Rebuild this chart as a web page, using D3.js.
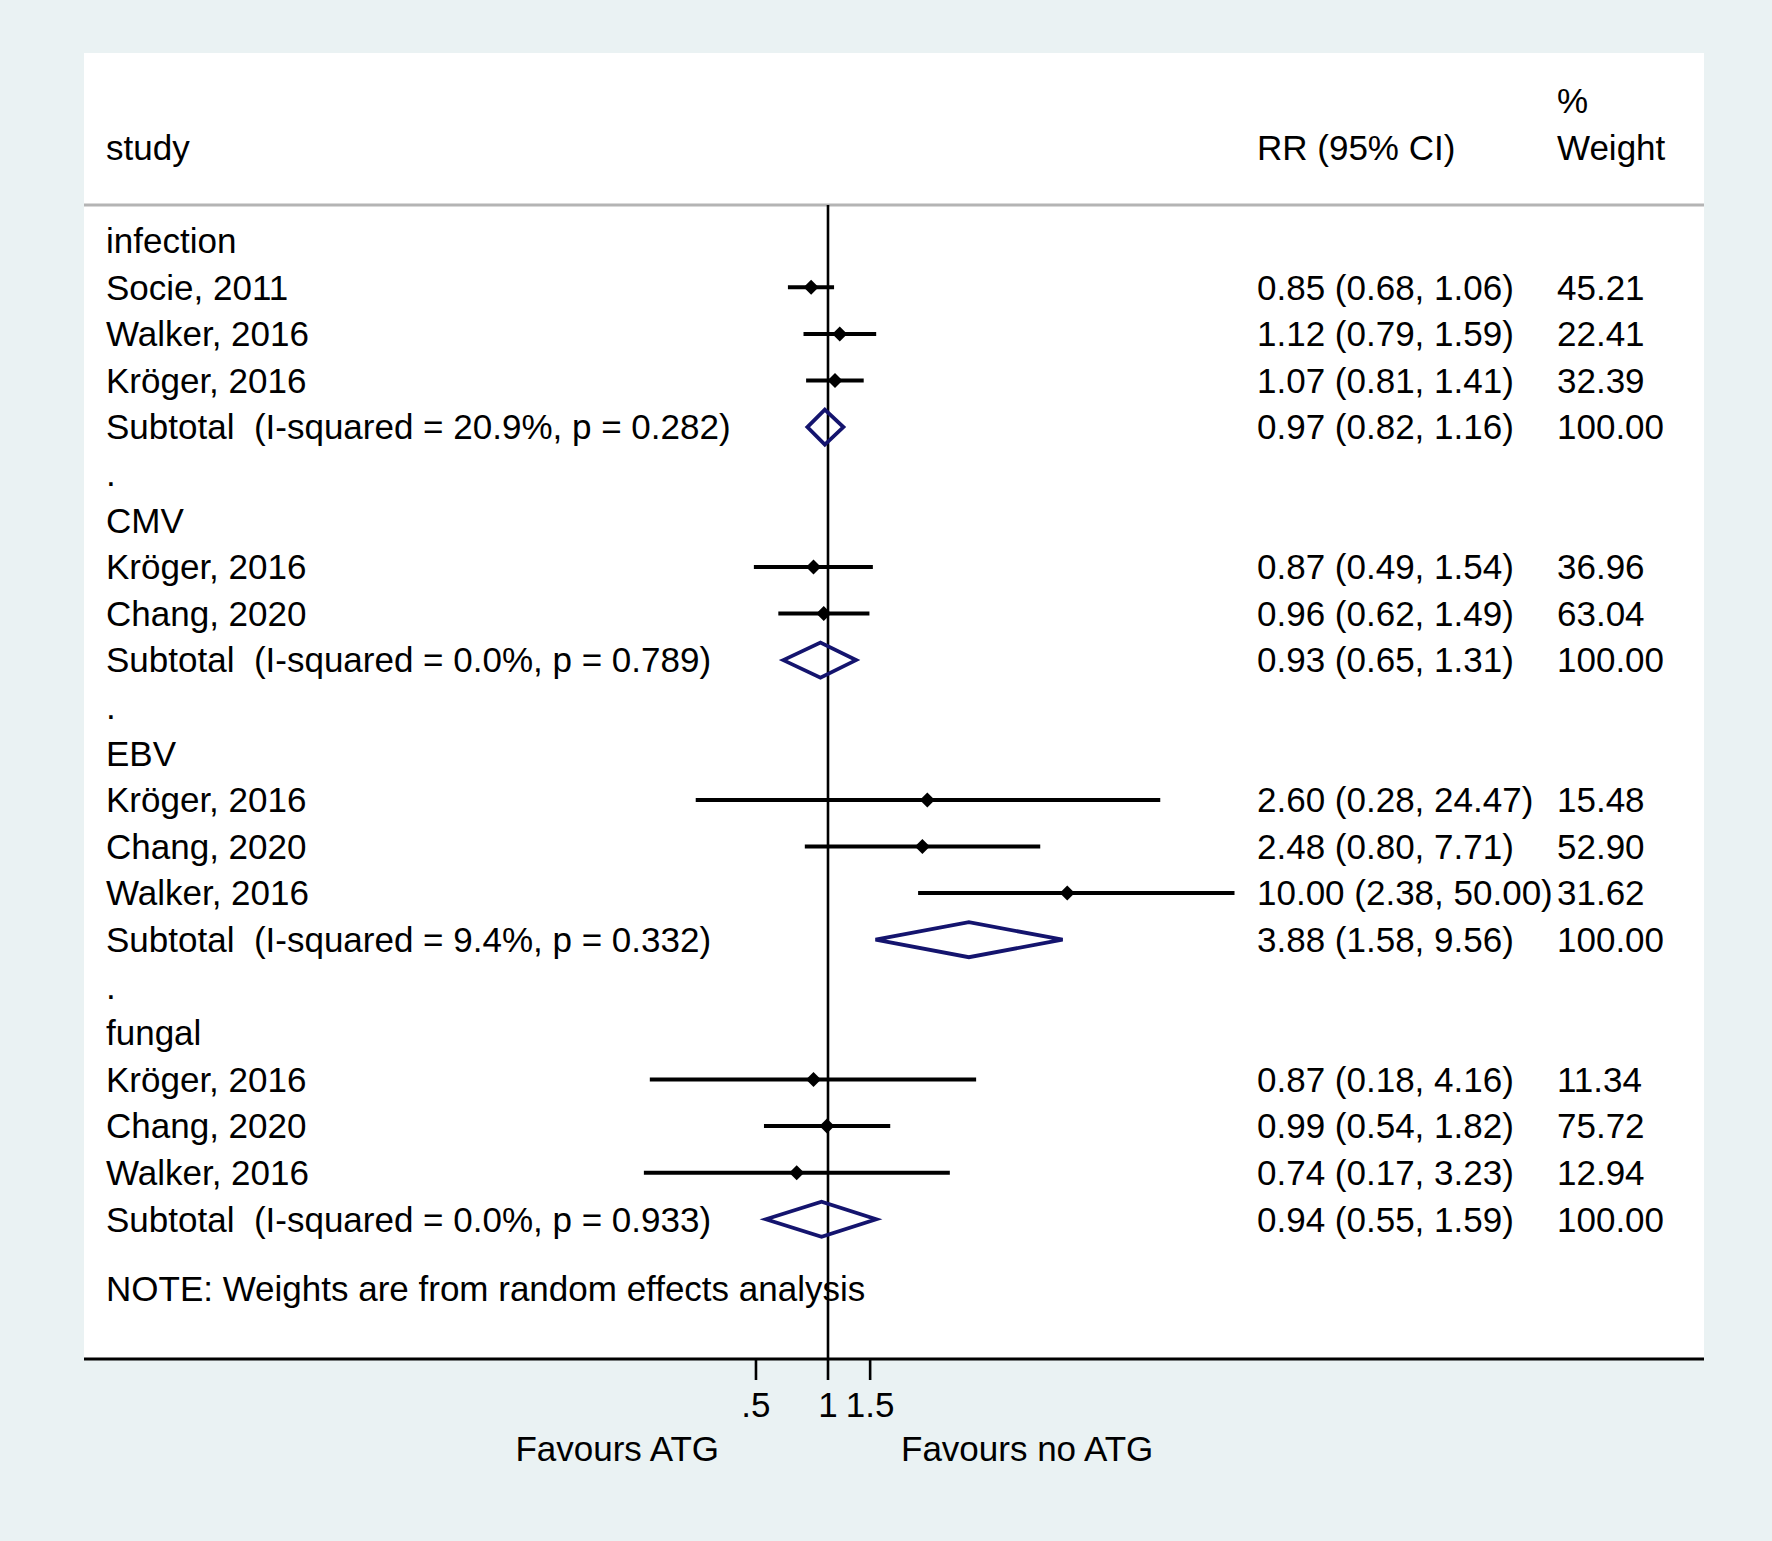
<!DOCTYPE html>
<html>
<head>
<meta charset="utf-8">
<script src="https://cdn.jsdelivr.net/npm/d3@7"></script>
<style>
  html, body { margin: 0; padding: 0; background: #eaf2f3; }
  svg { display: block; }
  text { font-family: "Liberation Sans", Arial, Helvetica, sans-serif; fill: #000; white-space: pre; }
</style>
</head>
<body>
<svg id="chart" width="1772" height="1541"></svg>
<script>
// ---- Data ----
const rowTypes  = ["group","study","study","study","subtotal","blank",
                   "group","study","study","subtotal","blank",
                   "group","study","study","study","subtotal","blank",
                   "group","study","study","study","subtotal"];
const rowLabels = ["infection","Socie, 2011","Walker, 2016","Kröger, 2016","Subtotal  (I-squared = 20.9%, p = 0.282)",".",
                   "CMV","Kröger, 2016","Chang, 2020","Subtotal  (I-squared = 0.0%, p = 0.789)",".",
                   "EBV","Kröger, 2016","Chang, 2020","Walker, 2016","Subtotal  (I-squared = 9.4%, p = 0.332)",".",
                   "fungal","Kröger, 2016","Chang, 2020","Walker, 2016","Subtotal  (I-squared = 0.0%, p = 0.933)"];
const rrValues  = [null,0.85,1.12,1.07,0.97,null, null,0.87,0.96,0.93,null, null,2.60,2.48,10.00,3.88,null, null,0.87,0.99,0.74,0.94];
const ciLower   = [null,0.68,0.79,0.81,0.82,null, null,0.49,0.62,0.65,null, null,0.28,0.80,2.38,1.58,null, null,0.18,0.54,0.17,0.55];
const ciUpper   = [null,1.06,1.59,1.41,1.16,null, null,1.54,1.49,1.31,null, null,24.47,7.71,50.00,9.56,null, null,4.16,1.82,3.23,1.59];
const weights   = [null,45.21,22.41,32.39,100.00,null, null,36.96,63.04,100.00,null, null,15.48,52.90,31.62,100.00,null, null,11.34,75.72,12.94,100.00];
const xTicks      = [0.5, 1, 1.5];
const xTickLabels = [".5", "1", "1.5"];
const headerStudy  = "study";
const headerRR     = "RR (95% CI)";
const headerWeight = ["%", "Weight"];
const favourLeft  = "Favours ATG";
const favourRight = "Favours no ATG";
const noteText    = "NOTE: Weights are from random effects analysis";

// ---- Layout ----
const W = 1772, H = 1541;
const panel = { left: 84, right: 1704, top: 53, bottom: 1359 };
const headerLineY = 205;
const fontSize = 35;
const colStudyX = 106, colRRX = 1257, colWX = 1557;

const svg = d3.select("#chart");

svg.append("rect").attr("x",0).attr("y",0).attr("width",W).attr("height",H).attr("fill","#eaf2f3");
svg.append("rect").attr("x",panel.left).attr("y",panel.top)
  .attr("width",panel.right-panel.left).attr("height",panel.bottom-panel.top).attr("fill","#ffffff");

// scales
const x = d3.scaleLog().domain([0.02, 50]).range([421.5, 1234.5]);
const rowIdx = d3.range(rowLabels.length);
const y = d3.scaleLinear().domain([0, rowLabels.length - 1]).range([240.7, 1219.3]);
const fmt = d3.format(".2f");

// header
const hdr = svg.append("g").attr("font-size", fontSize);
hdr.append("text").attr("x", colStudyX).attr("y", 148).attr("dy","0.35em").text(headerStudy);
hdr.append("text").attr("x", colRRX).attr("y", 148).attr("dy","0.35em").text(headerRR);
hdr.append("text").attr("x", colWX).attr("y", 100.6).attr("dy","0.35em").text(headerWeight[0]);
hdr.append("text").attr("x", colWX).attr("y", 148).attr("dy","0.35em").text(headerWeight[1]);

svg.append("line").attr("x1",panel.left).attr("x2",panel.right)
  .attr("y1",headerLineY).attr("y2",headerLineY)
  .attr("stroke","#b4b4b4").attr("stroke-width",3);

// null line
svg.append("line").attr("x1",x(1)).attr("x2",x(1))
  .attr("y1",headerLineY).attr("y2",panel.bottom)
  .attr("stroke","#000").attr("stroke-width",2.6);

// row labels
const rows = svg.append("g").attr("font-size", fontSize);
rows.selectAll("text.lab").data(rowIdx).join("text")
  .attr("class","lab")
  .attr("x", colStudyX)
  .attr("y", i => y(i))
  .attr("dy", "0.35em")
  .attr("xml:space", "preserve")
  .text(i => rowLabels[i]);

const dataRows = rowIdx.filter(i => rrValues[i] !== null);
rows.selectAll("text.rr").data(dataRows).join("text")
  .attr("class","rr")
  .attr("x", colRRX).attr("y", i => y(i)).attr("dy","0.35em")
  .text(i => `${fmt(rrValues[i])} (${fmt(ciLower[i])}, ${fmt(ciUpper[i])})`);
rows.selectAll("text.w").data(dataRows).join("text")
  .attr("class","w")
  .attr("x", colWX).attr("y", i => y(i)).attr("dy","0.35em")
  .text(i => fmt(weights[i]));

// study CIs and points
const studyRows = rowIdx.filter(i => rowTypes[i] === "study");
const marks = svg.append("g");
marks.selectAll("line.ci").data(studyRows).join("line")
  .attr("class","ci")
  .attr("x1", i => x(ciLower[i])).attr("x2", i => x(ciUpper[i]))
  .attr("y1", i => y(i)).attr("y2", i => y(i))
  .attr("stroke","#000").attr("stroke-width",4);
const ms = 7.5;
marks.selectAll("path.pt").data(studyRows).join("path")
  .attr("class","pt")
  .attr("d", i => {
    const cx = x(rrValues[i]), cy = y(i);
    return `M${cx-ms},${cy}L${cx},${cy-ms}L${cx+ms},${cy}L${cx},${cy+ms}Z`;
  })
  .attr("fill","#000");

// subtotal diamonds
const subRows = rowIdx.filter(i => rowTypes[i] === "subtotal");
const dh = 17.5;
marks.selectAll("path.sub").data(subRows).join("path")
  .attr("class","sub")
  .attr("d", i => {
    const cy = y(i);
    return `M${x(ciLower[i])},${cy}L${x(rrValues[i])},${cy-dh}L${x(ciUpper[i])},${cy}L${x(rrValues[i])},${cy+dh}Z`;
  })
  .attr("fill","none").attr("stroke","#14146e").attr("stroke-width",3.8)
  .attr("stroke-linejoin","miter");

// note
svg.append("text").attr("font-size", fontSize).attr("x", colStudyX).attr("y", 1289).attr("dy","0.35em").text(noteText);

// x-axis
svg.append("line").attr("x1",panel.left).attr("x2",panel.right)
  .attr("y1",panel.bottom).attr("y2",panel.bottom)
  .attr("stroke","#000").attr("stroke-width",2.8);
const ax = svg.append("g");
ax.selectAll("line.tick").data(xTicks).join("line")
  .attr("x1", d => x(d)).attr("x2", d => x(d))
  .attr("y1", panel.bottom).attr("y2", panel.bottom + 21)
  .attr("stroke","#000").attr("stroke-width",2.6);
ax.selectAll("text.tl").data(xTicks).join("text")
  .attr("x", d => x(d)).attr("y", 1405).attr("dy","0.35em")
  .attr("text-anchor","middle").attr("font-size", fontSize)
  .text((d,i) => xTickLabels[i]);

svg.append("text").attr("font-size", fontSize).attr("x", x(1) - 109).attr("y", 1449).attr("dy","0.35em")
  .attr("text-anchor","end").text(favourLeft);
svg.append("text").attr("font-size", fontSize).attr("x", x(1) + 73).attr("y", 1449).attr("dy","0.35em")
  .attr("text-anchor","start").text(favourRight);
</script>
</body>
</html>
